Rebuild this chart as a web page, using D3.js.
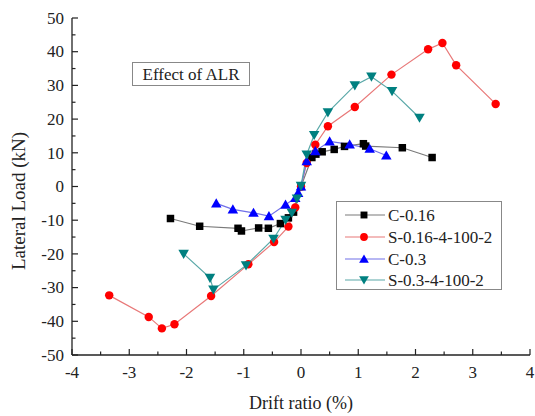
<!DOCTYPE html>
<html>
<head>
<meta charset="utf-8">
<script src="https://cdn.jsdelivr.net/npm/d3@7/dist/d3.min.js"></script>
<style>
  html, body { margin: 0; padding: 0; background: #fff; }
  svg { display: block; font-family: "Liberation Serif", "Times New Roman", serif; }
</style>
</head>
<body>
<svg id="chart" width="535" height="416"></svg>
<script>
// Skeleton curves: drift ratio (%) vs lateral load (kN)
const seriesNames = ["C-0.16", "S-0.16-4-100-2", "C-0.3", "S-0.3-4-100-2"];

const c016 = [
  [-2.28, -9.5], [-1.77, -11.8], [-1.10, -12.4], [-1.04, -13.2], [-0.74, -12.3],
  [-0.57, -12.4], [-0.36, -11.0], [-0.22, -9.3], [-0.13, -7.6], [0.0, 0.0],
  [0.19, 8.6], [0.26, 9.6], [0.37, 10.3], [0.58, 11.0], [0.76, 11.9],
  [1.09, 12.7], [1.13, 12.0], [1.77, 11.5], [2.29, 8.6]
];
const s016 = [
  [-3.35, -32.3], [-2.66, -38.7], [-2.43, -42.1], [-2.21, -40.9], [-1.57, -32.5],
  [-0.92, -23.1], [-0.47, -16.5], [-0.22, -11.9], [-0.10, -6.2], [0.0, 0.0],
  [0.10, 7.0], [0.25, 12.4], [0.47, 17.9], [0.94, 23.6], [1.58, 33.2],
  [2.22, 40.7], [2.47, 42.6], [2.71, 36.0], [3.40, 24.5]
];
const c03 = [
  [-1.48, -5.0], [-1.19, -6.8], [-0.83, -7.8], [-0.56, -8.8], [-0.27, -5.4],
  [-0.10, -3.4], [-0.05, -1.9], [0.0, 0.0], [0.10, 7.5], [0.25, 10.5],
  [0.50, 13.4], [0.85, 12.5], [1.20, 11.2], [1.49, 9.2]
];
const s03 = [
  [-2.05, -20.0], [-1.59, -27.1], [-1.53, -30.6], [-0.96, -23.4], [-0.48, -15.5],
  [-0.27, -9.9], [-0.16, -7.8], [-0.07, -3.6], [0.0, 0.2], [0.10, 9.5],
  [0.23, 15.3], [0.47, 22.0], [0.94, 30.0], [1.23, 32.6], [1.59, 28.3],
  [2.07, 20.4]
];

const xTicks = [-4, -3, -2, -1, 0, 1, 2, 3, 4];
const yTicks = [-50, -40, -30, -20, -10, 0, 10, 20, 30, 40, 50];

const series = [
  { name: seriesNames[0], data: c016, color: "#000000", line: "#7a7a7a", symbol: d3.symbolSquare, size: 56, rot: 0 },
  { name: seriesNames[1], data: s016, color: "#ff0000", line: "#e87878", symbol: d3.symbolCircle, size: 56, rot: 0 },
  { name: seriesNames[2], data: c03,  color: "#0000ff", line: "#7070e8", symbol: d3.symbolTriangle, size: 48, rot: 0 },
  { name: seriesNames[3], data: s03,  color: "#008080", line: "#5aa8a8", symbol: d3.symbolTriangle, size: 48, rot: 180 }
];

const svg = d3.select("#chart");
const x = d3.scaleLinear().domain([-4, 4]).range([72, 530]);
const y = d3.scaleLinear().domain([-50, 50]).range([355, 18]);

// Axes (ticks drawn inward, minor ticks between majors)
const axisColor = "#222";
const gx = svg.append("g").attr("transform", `translate(0,${y(-50)})`);
gx.append("line").attr("x1", x(-4)).attr("x2", x(4)).attr("stroke", axisColor).attr("stroke-width", 1.3);
d3.range(-4, 4.01, 0.5).forEach(v => {
  const major = Math.abs(v - Math.round(v)) < 1e-6;
  gx.append("line").attr("x1", x(v)).attr("x2", x(v)).attr("y1", 0).attr("y2", major ? -6 : -3.5)
    .attr("stroke", axisColor).attr("stroke-width", 1.2);
});
gx.selectAll("text.tick").data(xTicks).join("text")
  .attr("x", d => x(d)).attr("y", 23).attr("text-anchor", "middle")
  .attr("font-size", 17).attr("fill", "#222").text(d => d);

const gy = svg.append("g").attr("transform", `translate(${x(-4)},0)`);
gy.append("line").attr("y1", y(-50)).attr("y2", y(50)).attr("stroke", axisColor).attr("stroke-width", 1.3);
d3.range(-50, 50.01, 5).forEach(v => {
  const major = v % 10 === 0;
  gy.append("line").attr("y1", y(v)).attr("y2", y(v)).attr("x1", 0).attr("x2", major ? 6 : 3.5)
    .attr("stroke", axisColor).attr("stroke-width", 1.2);
});
gy.selectAll("text.tick").data(yTicks).join("text")
  .attr("x", -8).attr("y", d => y(d)).attr("dy", "0.34em").attr("text-anchor", "end")
  .attr("font-size", 17).attr("fill", "#222").text(d => d);

// Axis titles
svg.append("text").attr("x", 301).attr("y", 409).attr("text-anchor", "middle")
  .attr("font-size", 18).attr("fill", "#222").text("Drift ratio (%)");
svg.append("text").attr("transform", "translate(25,201) rotate(-90)").attr("text-anchor", "middle")
  .attr("font-size", 19).attr("fill", "#222").text("Lateral Load (kN)");

// Series lines and markers
const line = d3.line().x(d => x(d[0])).y(d => y(d[1]));
series.forEach(s => {
  svg.append("path").datum(s.data).attr("d", line)
    .attr("fill", "none").attr("stroke", s.line).attr("stroke-width", 1.2);
});
series.forEach(s => {
  const sym = d3.symbol().type(s.symbol).size(s.size);
  svg.append("g").selectAll("path").data(s.data).join("path")
    .attr("d", sym)
    .attr("transform", d => `translate(${x(d[0])},${y(d[1]) + (s.rot ? -1 : (s.symbol === d3.symbolTriangle ? 1 : 0))}) rotate(${s.rot})`)
    .attr("fill", s.color);
});

// Annotation box
svg.append("rect").attr("x", 132.5).attr("y", 62.5).attr("width", 117).attr("height", 23)
  .attr("fill", "#fff").attr("stroke", "#888").attr("stroke-width", 1);
svg.append("text").attr("x", 191).attr("y", 80).attr("text-anchor", "middle")
  .attr("font-size", 17).attr("fill", "#222").text("Effect of ALR");

// Legend
const lg = svg.append("g");
lg.append("rect").attr("x", 336.5).attr("y", 201.5).attr("width", 165).attr("height", 88)
  .attr("fill", "#fff").attr("stroke", "#888").attr("stroke-width", 1);
const rowY = [215, 237, 259, 280];
series.forEach((s, i) => {
  lg.append("line").attr("x1", 345).attr("x2", 385).attr("y1", rowY[i]).attr("y2", rowY[i])
    .attr("stroke", s.line).attr("stroke-width", 1.2);
  lg.append("path").attr("d", d3.symbol().type(s.symbol).size(s.size * 0.85)())
    .attr("transform", `translate(364,${rowY[i] + (s.rot ? -1 : (s.symbol === d3.symbolTriangle ? 1 : 0))}) rotate(${s.rot})`)
    .attr("fill", s.color);
  lg.append("text").attr("x", 388).attr("y", rowY[i]).attr("dy", "0.35em")
    .attr("font-size", 17).attr("fill", "#222").text(s.name);
});
</script>
</body>
</html>
